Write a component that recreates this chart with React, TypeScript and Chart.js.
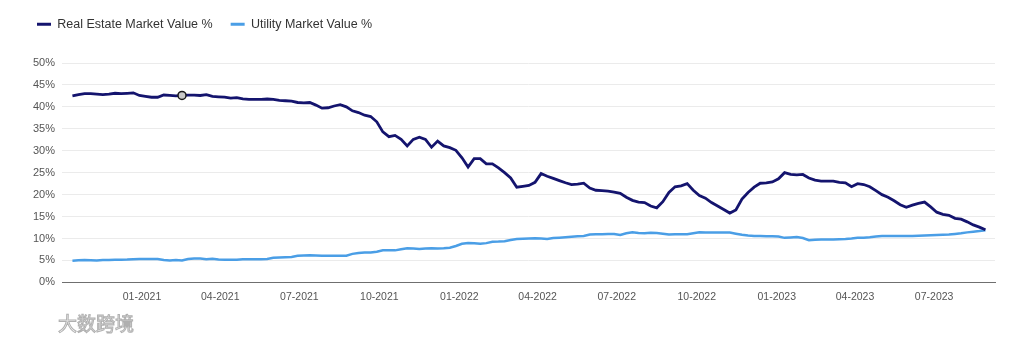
import React, { useEffect, useRef } from "react";
import { Chart, registerables } from "chart.js";

Chart.register(...registerables);

const AXIS_START = "2020-10-01";
const AXIS_END = "2023-09-09";
const SERIES_START = "2020-10-13";

const QUARTER_DATES = [
  "2021-01-01", "2021-04-01", "2021-07-01", "2021-10-01",
  "2022-01-01", "2022-04-01", "2022-07-01", "2022-10-01",
  "2023-01-01", "2023-04-01", "2023-07-01",
];
const QUARTER_LABELS = [
  "01-2021", "04-2021", "07-2021", "10-2021",
  "01-2022", "04-2022", "07-2022", "10-2022",
  "01-2023", "04-2023", "07-2023",
];

const Y_TICKS = [0, 5, 10, 15, 20, 25, 30, 35, 40, 45, 50];

const SERIES_NAMES = ["Real Estate Market Value %", "Utility Market Value %"];

const realEstate = [
  42.5, 42.8, 43.0, 43.0, 42.9, 42.8, 42.9, 43.1, 43.0, 43.1,
  43.2, 42.6, 42.4, 42.2, 42.2, 42.7, 42.6, 42.5, 42.6, 42.7,
  42.7, 42.6, 42.8, 42.4, 42.3, 42.2, 42.0, 42.1, 41.8, 41.7,
  41.7, 41.7, 41.8, 41.7, 41.5, 41.4, 41.3, 41.0, 40.9, 41.0,
  40.4, 39.7, 39.8, 40.2, 40.5, 40.0, 39.1, 38.7, 38.1, 37.8,
  36.6, 34.3, 33.2, 33.5, 32.6, 31.1, 32.6, 33.1, 32.6, 30.8,
  32.2, 31.1, 30.7, 30.1, 28.4, 26.3, 28.2, 28.2, 27.0, 27.0,
  26.1, 25.0, 23.8, 21.7, 21.9, 22.1, 22.8, 24.8, 24.2, 23.7,
  23.2, 22.7, 22.3, 22.4, 22.6, 21.5, 21.0, 20.9, 20.8, 20.6,
  20.3, 19.4, 18.7, 18.3, 18.2, 17.4, 17.0, 18.4, 20.5, 21.8,
  22.0, 22.5, 21.0, 19.8, 19.2, 18.2, 17.4, 16.6, 15.8, 16.5,
  19.0, 20.5, 21.7, 22.6, 22.7, 22.9, 23.6, 25.0, 24.6, 24.5,
  24.6, 23.8, 23.3, 23.1, 23.1, 23.1, 22.8, 22.7, 21.8, 22.5,
  22.3, 21.8, 20.9, 20.0, 19.4, 18.6, 17.7, 17.1, 17.6, 18.0,
  18.3, 17.2, 16.0, 15.5, 15.3, 14.6, 14.4, 13.8, 13.1, 12.6,
  12.0,
];

const utility = [
  4.95, 5.05, 5.1, 5.05, 5.0, 5.1, 5.1, 5.15, 5.15, 5.2,
  5.3, 5.35, 5.35, 5.35, 5.35, 5.1, 5.0, 5.1, 5.0, 5.35,
  5.45, 5.45, 5.3, 5.4, 5.2, 5.15, 5.15, 5.15, 5.25, 5.3,
  5.3, 5.3, 5.35, 5.6, 5.7, 5.75, 5.8, 6.05, 6.15, 6.2,
  6.15, 6.1, 6.1, 6.05, 6.05, 6.1, 6.5, 6.7, 6.8, 6.8,
  7.0, 7.3, 7.3, 7.3, 7.55, 7.8, 7.7, 7.6, 7.7, 7.8,
  7.75, 7.8, 7.9, 8.3, 8.8, 9.0, 8.9, 8.8, 8.95, 9.25,
  9.3, 9.4, 9.65, 9.9, 9.95, 10.0, 10.05, 10.0, 9.9, 10.1,
  10.2, 10.3, 10.4, 10.5, 10.6, 10.9, 11.0, 11.0, 11.05, 11.05,
  10.8, 11.2, 11.4, 11.25, 11.2, 11.3, 11.25, 11.1, 10.9, 10.95,
  11.0, 11.0, 11.2, 11.4, 11.35, 11.35, 11.4, 11.4, 11.35, 11.1,
  10.85, 10.7, 10.6, 10.55, 10.5, 10.5, 10.45, 10.15, 10.25, 10.35,
  10.1, 9.6, 9.7, 9.8, 9.8, 9.8, 9.85, 9.9, 10.0, 10.15,
  10.2, 10.3, 10.45, 10.55, 10.6, 10.6, 10.6, 10.6, 10.6, 10.65,
  10.7, 10.75, 10.8, 10.85, 10.9, 11.05, 11.2, 11.4, 11.55, 11.7,
  11.9,
];

// highlighted (hovered) point on the real-estate line
const HIGHLIGHT_INDEX = 18;

const DAY_MS = 86400000;
const dayOf = (s: string) => (Date.parse(s) - Date.parse(AXIS_START)) / DAY_MS;
const firstDay = dayOf(SERIES_START);
const weekX = (i: number) => firstDay + 7 * i;

const DARK = "#14146e";
const LIGHT = "#4a9ee6";

export default function App() {
  const ref = useRef<HTMLCanvasElement | null>(null);

  useEffect(() => {
    if (!ref.current) return;
    const tickDays = QUARTER_DATES.map(dayOf);

    const legendSpacer = {
      id: "legendSpacer",
      beforeInit(chart: any) {
        const originalFit = chart.legend.fit;
        chart.legend.fit = function fit() {
          originalFit.bind(chart.legend)();
          this.height += 22.5;
        };
      },
    };

    const chart = new Chart(ref.current, {
      type: "line",
      data: {
        datasets: [
          {
            label: SERIES_NAMES[0],
            data: realEstate.map((v, i) => ({ x: weekX(i), y: v })),
            borderColor: DARK,
            backgroundColor: DARK,
            borderWidth: 2.8,
            tension: 0,
            pointRadius: (c: any) => (c.dataIndex === HIGHLIGHT_INDEX ? 4 : 0),
            pointBackgroundColor: "#c9c9c9",
            pointBorderColor: "#1a1a1a",
            pointBorderWidth: 1.5,
            pointHoverRadius: 0,
          },
          {
            label: SERIES_NAMES[1],
            data: utility.map((v, i) => ({ x: weekX(i), y: v })),
            borderColor: LIGHT,
            backgroundColor: LIGHT,
            borderWidth: 2.5,
            tension: 0,
            pointRadius: 0,
            pointHoverRadius: 0,
          },
        ],
      },
      options: {
        animation: false,
        responsive: true,
        maintainAspectRatio: false,
        events: [],
        layout: { padding: { left: 19, right: 30, top: 0, bottom: 31 } },
        plugins: {
          tooltip: { enabled: false },
          legend: {
            position: "top",
            align: "start",
            labels: {
              boxWidth: 14,
              boxHeight: 3,
              padding: 18,
              color: "#333333",
              font: { family: "Arial, 'Liberation Sans', sans-serif", size: 12.5 },
              generateLabels(chart: any) {
                const items = (Chart.defaults.plugins.legend.labels as any).generateLabels(chart);
                return items.map((it: any) => ({
                  ...it,
                  fillStyle: it.strokeStyle,
                  lineWidth: 0,
                }));
              },
            },
          },
        },
        scales: {
          x: {
            type: "linear",
            min: 0,
            max: dayOf(AXIS_END),
            grid: { display: false, drawTicks: false },
            border: { display: true, color: "#6f6f6f", width: 1 },
            afterBuildTicks(scale: any) {
              scale.ticks = tickDays.map((v) => ({ value: v }));
            },
            ticks: {
              autoSkip: false,
              maxRotation: 0,
              padding: 8,
              color: "#555555",
              font: { family: "Arial, 'Liberation Sans', sans-serif", size: 10.5 },
              callback: (v: any) => {
                const idx = tickDays.indexOf(Number(v));
                return idx >= 0 ? QUARTER_LABELS[idx] : "";
              },
            },
          },
          y: {
            min: 0,
            max: 50,
            afterBuildTicks(scale: any) {
              scale.ticks = Y_TICKS.map((v) => ({ value: v }));
            },
            afterFit(scale: any) {
              scale.width = 43;
            },
            grid: { color: "#ebebeb", lineWidth: 1, drawTicks: false },
            border: { display: false },
            ticks: {
              padding: 7,
              color: "#555555",
              font: { family: "Arial, 'Liberation Sans', sans-serif", size: 11 },
              callback: (v: any) => `${v}%`,
            },
          },
        },
      } as any,
      plugins: [legendSpacer],
    });

    return () => chart.destroy();
  }, []);

  return (
    <div
      style={{
        position: "absolute",
        left: 0,
        top: 0,
        width: 1025,
        height: 342,
        background: "#ffffff",
        overflow: "hidden",
      }}
    >
      <canvas ref={ref} />
      <span
        style={{
          position: "absolute",
          left: 58,
          top: 311,
          fontFamily: "'Noto Sans CJK SC', sans-serif",
          fontSize: 19,
          fontWeight: 400,
          color: "#f4f4f4",
          WebkitTextStroke: "1px #b0b0b0",
          letterSpacing: 0,
          lineHeight: "24px",
        }}
      >
        大数跨境
      </span>
    </div>
  );
}
